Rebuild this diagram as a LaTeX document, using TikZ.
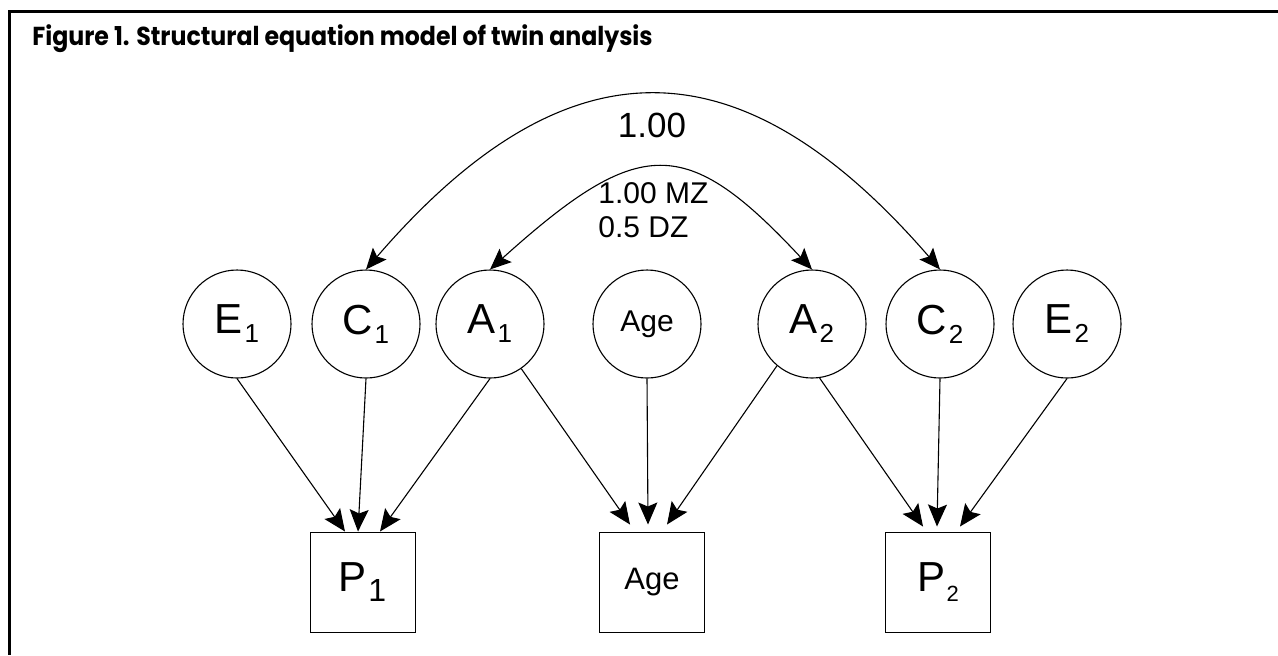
\documentclass[tikz,border=0pt]{standalone}
\usepackage{graphicx}
\usepackage{fontspec}
\setmainfont{Liberation Sans}
\newfontfamily\titlefont{Poppins}
\usepackage{tikz}
\usetikzlibrary{arrows.meta, calc}

\newcommand{\lowsub}[3][4.5pt]{\kern0.8pt\raisebox{-#1}{\fontsize{#2}{#2}\selectfont #3}}

\begin{document}
\begin{tikzpicture}[x=0.5pt, y=-0.5pt,
    latent/.style = {circle, draw, line width=0.55pt, minimum size=54pt, inner sep=0pt,
        font=\fontsize{21}{21}\selectfont},
    observed/.style = {rectangle, draw, line width=0.5pt, minimum width=52.5pt,
        minimum height=50pt, inner sep=0pt, font=\fontsize{21}{21}\selectfont},
    link/.style = {-{Stealth[length=11pt, width=9.5pt, inset=2pt]}, line width=0.55pt},
    twoway/.style = {{Stealth[length=10.5pt, width=9pt, inset=2pt]}-{Stealth[length=10.5pt, width=9pt, inset=2pt]}, line width=0.55pt}]
    \useasboundingbox (0,0) rectangle (1278,655);
    \draw[line width=1.5pt] (1278,11.5) -- (9.5,11.5) -- (9.5,655);
    \node[anchor=base west, inner sep=0pt, font=\titlefont\bfseries\fontsize{13}{13}\selectfont]
        (title) at (32,45) {\scalebox{0.91}[1]{Figure 1. Structural equation model of twin analysis}};

    \node[latent] (E1) at (237,324) {E\lowsub{13pt}{1}};
    \node[latent] (C1) at (366,324) {C\lowsub{13pt}{1}};
    \node[latent] (A1) at (490,324) {A\lowsub{13pt}{1}};
    \node[latent, font=\fontsize{15}{15}\selectfont] (AgeL) at (647,324) {Age};
    \node[latent] (A2) at (812,324) {A\lowsub{13pt}{2}};
    \node[latent] (C2) at (940,324) {C\lowsub{13pt}{2}};
    \node[latent] (E2) at (1067,324) {E\lowsub{13pt}{2}};

    \node[observed] (P1) at (362.5,582) {P\lowsub[5pt]{16pt}{1}};
    \node[observed, font=\fontsize{15.5}{15.5}\selectfont] (AgeM) at (652,582) {Age};
    \node[observed] (P2) at (938,582) {P\lowsub[5pt]{11pt}{2}};

    \draw[twoway] (C1.north) .. controls +(200,-232) and +(-200,-231) .. (C2.north);
    \draw[twoway] (A1.north) .. controls +(150,-135) and +(-126,-135) .. (A2.north);
    \node[inner sep=0pt, font=\fontsize{17.5}{17.5}\selectfont] (rC) at (652,125.5) {1.00};
    \node[anchor=north west, inner sep=0pt, align=left, font=\fontsize{15}{17}\selectfont]
        (rA) at (598,182) {1.00 MZ\\0.5 DZ};

    \draw[link] (E1.south) -- ($(P1.north)+(-17.5,0)$);
    \draw[link] (C1.south) -- ($(P1.north)+(-4.5,0)$);
    \draw[link] (A1.south) -- ($(P1.north)+(17.5,0)$);
    \draw[link] (A1.-55) -- ($(AgeM.north)+(-22,-7)$);
    \draw[link] (AgeL.south) -- ($(AgeM.north)+(-4,-7)$);
    \draw[link] (A2.-130) -- ($(AgeM.north)+(15,-7)$);
    \draw[link] (A2.-82) -- ($(P2.north)+(-15,-5)$);
    \draw[link] (C2.south) -- ($(P2.north)+(-1,-5)$);
    \draw[link] (E2.south) -- ($(P2.north)+(22,-5)$);
\end{tikzpicture}
\end{document}
